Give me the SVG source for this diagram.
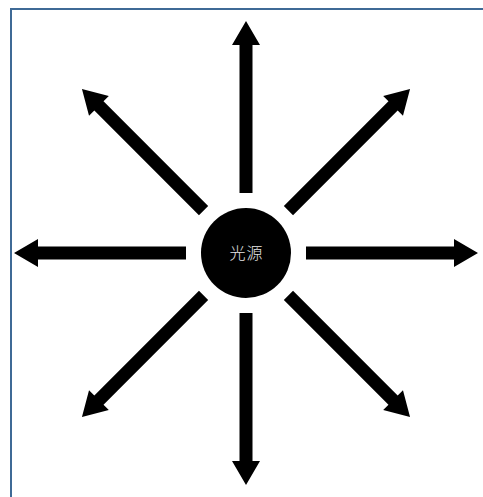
<svg xmlns="http://www.w3.org/2000/svg" xmlns:xlink="http://www.w3.org/1999/xlink" width="483" height="497" viewBox="0 0 483 497">
<style>
.frame{fill:none;stroke:#3f6a96;stroke-width:2}
.arrow{fill:#000}
.label{font-family:"Noto Sans CJK SC","Noto Sans CJK JP",sans-serif;font-size:16px;font-weight:300;letter-spacing:1px;fill:#e6e6e6;text-anchor:middle}
</style>
<defs>
<path id="arr" d="M60,-6.5 L208,-6.5 L208,-14 L232,0 L208,14 L208,6.5 L60,6.5 Z"/>
</defs>
<rect width="483" height="497" fill="#fff"/>
<path class="frame" d="M11,497 L11,9 L483,9"/>
<g id="connectors" class="arrow">
<use xlink:href="#arr" transform="translate(246,253) rotate(-90)"/>
<use xlink:href="#arr" transform="translate(246,253) rotate(90)"/>
<use xlink:href="#arr" transform="translate(246,253) rotate(180)"/>
<use xlink:href="#arr" transform="translate(246,253) rotate(0)"/>
<use xlink:href="#arr" transform="translate(246,253) rotate(-135)"/>
<use xlink:href="#arr" transform="translate(246,253) rotate(-45)"/>
<use xlink:href="#arr" transform="translate(246,253) rotate(135)"/>
<use xlink:href="#arr" transform="translate(246,253) rotate(45)"/>
</g>
<g id="light-source">
<circle cx="246" cy="253" r="45" fill="#000"/>
<text class="label" x="246.5" y="258.5">光源</text>
</g>
</svg>
